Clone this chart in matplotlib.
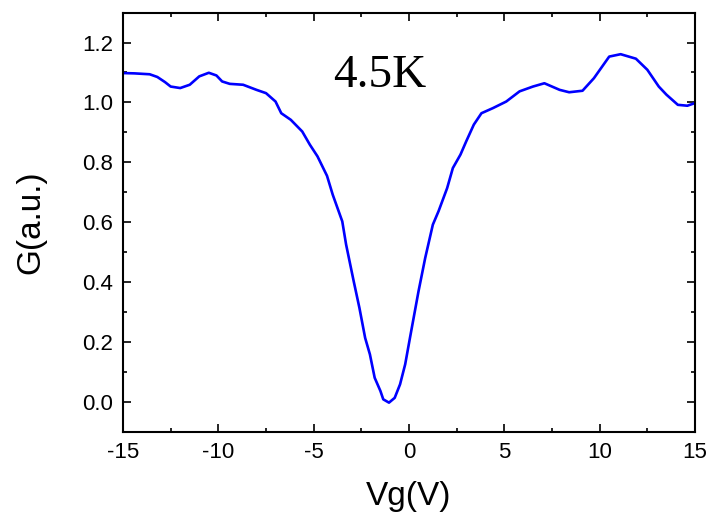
import numpy as np
import matplotlib
matplotlib.use("Agg")
import matplotlib.pyplot as plt
from matplotlib.ticker import MultipleLocator

# gate voltage (V) and conductance (a.u.)
vg = [-15.0, -14.4, -13.6, -13.2, -12.8, -12.5, -12.0, -11.5, -11.0, -10.5,
      -10.1, -9.8, -9.4, -8.7, -8.0, -7.5, -7.0, -6.7, -6.2, -5.6,
      -5.2, -4.8, -4.3, -4.0, -3.5, -3.3, -2.9, -2.6, -2.3, -2.05,
      -1.8, -1.5, -1.35, -1.05, -0.75, -0.47, -0.2, 0.05, 0.5, 0.85,
      1.25, 1.55, 2.0, 2.3, 2.7, 3.0, 3.4, 3.8, 4.4, 5.1,
      5.8, 6.5, 7.1, 7.9, 8.4, 9.1, 9.7, 10.5, 11.1, 11.9,
      12.5, 13.1, 13.5, 14.1, 14.6, 15.0]
g = [1.098, 1.097, 1.094, 1.085, 1.068, 1.053, 1.048, 1.059, 1.087, 1.099,
     1.090, 1.070, 1.062, 1.059, 1.042, 1.031, 1.003, 0.964, 0.942, 0.903,
     0.859, 0.820, 0.755, 0.692, 0.603, 0.526, 0.403, 0.314, 0.214, 0.159,
     0.081, 0.037, 0.009, -0.002, 0.014, 0.059, 0.126, 0.214, 0.370, 0.481,
     0.592, 0.637, 0.714, 0.781, 0.826, 0.870, 0.926, 0.964, 0.981, 1.003,
     1.037, 1.053, 1.064, 1.042, 1.034, 1.039, 1.081, 1.153, 1.161, 1.146,
     1.109, 1.053, 1.026, 0.992, 0.989, 0.998]
xticks = [-15, -10, -5, 0, 5, 10, 15]
yticks = [0.0, 0.2, 0.4, 0.6, 0.8, 1.0, 1.2]

plt.rcParams['font.family'] = ['Liberation Sans', 'DejaVu Sans']

fig = plt.figure(figsize=(7.11, 5.23), dpi=100)
ax = fig.add_axes([0.173, 0.174, 0.8045, 0.802])

ax.plot(vg, g, color='#0000ff', linewidth=1.9)

ax.set_xlim(-15, 15)
ax.set_ylim(-0.1, 1.3)
ax.set_xticks(xticks)
ax.set_xticklabels([str(v) for v in xticks])
ax.xaxis.set_minor_locator(MultipleLocator(2.5))
ax.set_yticks(yticks)
ax.set_yticklabels(['%.1f' % v for v in yticks])
ax.yaxis.set_minor_locator(MultipleLocator(0.1))

ax.tick_params(which='both', direction='in', top=True, right=True, width=1.2,
               labelsize=16, pad=7)
ax.tick_params(which='major', length=6)
ax.tick_params(which='minor', length=3)
for s in ax.spines.values():
    s.set_linewidth(1.5)

ax.set_xlabel('Vg(V)', fontsize=24, labelpad=13)
ax.set_ylabel('G(a.u.)', fontsize=24, labelpad=26)

ax.text(-4.0, 1.053, '4.5K', family='Liberation Serif', fontsize=34)

fig.savefig('out.png', dpi=100)
